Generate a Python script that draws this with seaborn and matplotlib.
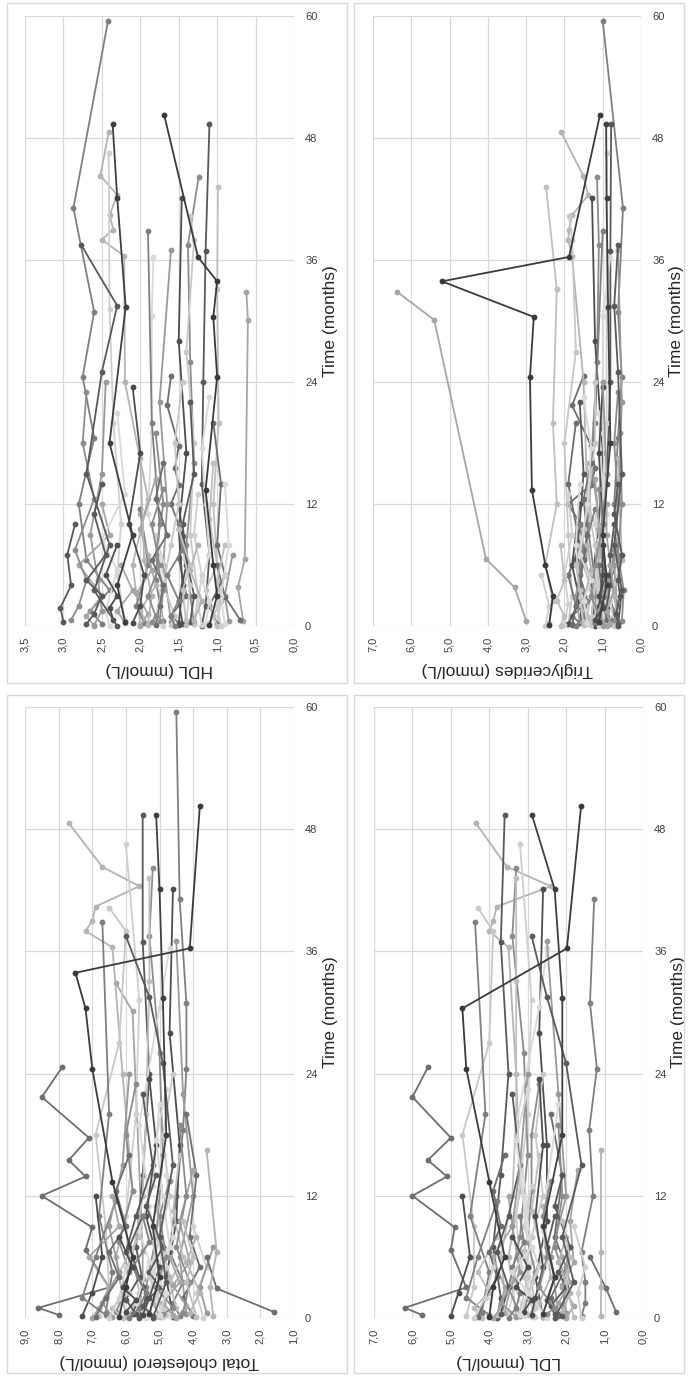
import numpy as np
import pandas as pd
import matplotlib
matplotlib.use('Agg')
import matplotlib.pyplot as plt
from matplotlib.ticker import FuncFormatter
import seaborn as sns

nan = np.nan

# visit times (months), one list per patient
times = [
    [0.2, 1.5, 3.5, 6.5, 12.0, 18.5, 24.5, 30.9, 41.1, 59.5],
    [0.5, 3.8, 6.6, 30.1, 32.9],
    [0.3, 1.0, 3.0, 6.7, 8.9, 12.0, 13.9, 15.5, 17.7, 21.7, 24.6],
    [0.2, 6.0, 12.5, 24.0, 36.4, 38.0, 39.0, 40.4, 42.4, 44.3, 48.6],
    [0.0, 2.0, 7.0, 14.0, 24.0, 36.9, 49.4],
    [0.6, 5.0, 10.0, 20.0, 31.2, 46.5],
    [0.2, 3.0, 8.0, 16.0, 26.0, 37.5, 44.2],
    [0.3, 2.5, 6.0, 12.0, 20.0, 33.1, 43.2],
    [0.1, 4.0, 9.5, 17.0, 28.0, 42.1],
    [0.7, 5.5, 11.0, 19.0, 30.5, 36.3],
    [0.4, 6.0, 12.0, 22.0, 37.0],
    [0.2, 3.0, 9.0, 18.0, 27.0, 38.0, 40.3],
    [0.5, 4.5, 10.0, 20.0, 38.9],
    [0.0, 1.0, 3.0, 6.0, 9.0, 12.0],
    [0.2, 2.0, 5.0, 8.0, 14.0, 20.0],
    [0.1, 1.5, 4.0, 7.0, 11.0],
    [0.4, 3.0, 6.5, 10.0, 15.0, 22.0],
    [0.0, 2.5, 5.0, 9.0],
    [0.6, 2.0, 4.5, 7.5, 12.5, 18.0, 23.0],
    [0.3, 1.0, 3.5, 6.0, 10.5, 16.0],
    [0.2, 2.5, 6.0, 12.0],
    [0.0, 1.5, 5.5, 8.5, 13.0, 21.0],
    [0.5, 3.0, 7.0],
    [0.1, 1.0, 4.0, 8.0, 12.0, 18.0, 24.0],
    [0.3, 2.0, 6.0, 11.5],
    [0.0, 1.2, 3.2, 5.5, 9.5, 14.5],
    [0.6, 2.9, 6.0],
    [0.2, 3.0, 6.5, 16.5],
    [0.4, 1.8, 4.0, 7.0, 10.0],
    [0.1, 2.2, 5.0, 9.0, 13.0],
    [0.5, 3.5, 7.0, 12.0, 19.0],
    [0.0, 1.0, 2.5, 4.5, 8.0],
    [0.3, 2.0, 5.0, 10.0, 17.0, 23.5],
    [0.2, 3.0, 8.0, 14.0],
    [0.1, 1.5, 4.5, 9.0, 15.0, 24.0],
    [0.6, 4.0, 7.5],
    [0.0, 1.0, 2.5, 5.0, 7.5, 10.0],
    [0.3, 1.5, 3.5, 6.0],
    [0.1, 2.0, 4.0, 6.5, 9.0, 12.5, 16.0],
    [0.5, 2.5, 5.5, 8.0],
    [0.2, 1.2, 3.0, 4.5, 7.0, 11.0, 14.0],
    [0.0, 2.0, 5.0],
    [0.4, 1.0, 3.0, 6.0, 10.0, 13.5],
    [0.1, 3.5, 6.0, 9.5],
    [0.6, 1.8, 3.0, 5.0, 8.0],
    [0.3, 2.5, 4.5, 7.0, 12.0, 17.5, 22.5],
    [0.0, 3.5, 8.0, 15.0, 25.0, 31.5, 37.5],
    [0.4, 4.0, 9.0, 18.0, 31.4, 42.1, 49.4],
    [0.1, 3.0, 6.0, 13.4, 24.5, 30.4, 33.9, 36.3, 50.3],
]

tc = [
    [4.4, 4.6, 4.3, 4.7, 4.5, 4.3, 4.2, 4.2, 4.4, 4.5],
    [5.6, 5.5, 5.5, 5.8, 6.3],
    [8.0, 8.6, 6.5, 7.2, 7.0, 8.5, 7.2, 7.7, 7.1, 8.5, 7.9],
    [6.0, 6.3, 5.8, 6.1, 6.4, 7.2, 7.0, 6.9, 5.6, 6.7, 7.7],
    [5.6, 5.4, 5.7, 5.5, 5.3, 5.5, 5.5],
    [6.2, 5.9, 6.0, 5.7, 5.6, 6.0],
    [5.0, 5.4, 5.1, 4.9, 5.0, 5.3, 5.2],
    [5.9, 5.6, 5.8, 5.5, 5.4, 5.3, 5.3],
    [4.6, 4.8, 4.5, 4.4, 4.7, 4.6],
    [5.4, 5.1, 5.3, 5.6, 5.0, 4.7],
    [4.2, 4.4, 4.0, 4.3, 4.5],
    [6.8, 6.5, 6.6, 6.9, 6.2, 6.0, 6.5],
    [6.6, 6.4, 6.8, 6.5, 6.7],
    [7.0, 6.8, 6.5, 7.1, 6.2, 6.4],
    [4.0, 4.3, 3.8, 4.1, 3.9, 4.2],
    [5.0, 5.2, 4.7, 4.9, 5.1],
    [5.8, 5.5, 6.0, 5.7, 5.2, 5.5],
    [3.7, 3.9, 3.6, 4.0],
    [6.3, 6.1, 5.9, 6.2, 5.8, 6.0, 5.7],
    [4.8, 4.5, 4.7, 4.3, 4.6, 4.4],
    [7.3, 7.0, 6.7, 6.9],
    [5.4, 5.7, 5.3, 5.6, 5.2, 5.0],
    [3.6, 3.8, 3.4],
    [5.1, 4.9, 5.3, 5.0, 4.7, 4.9, 4.6],
    [6.6, 7.3, 6.9, 6.3],
    [4.5, 4.2, 4.6, 4.1, 4.4, 4.0],
    [1.6, 3.3, 3.6],
    [3.4, 3.5, 3.3, 3.6],
    [5.7, 6.0, 5.6, 5.9, 5.5],
    [4.9, 5.1, 4.8, 5.2, 5.0],
    [4.3, 4.1, 4.5, 4.2, 4.4],
    [6.1, 6.4, 5.9, 6.2, 5.6],
    [5.5, 5.3, 5.0, 5.4, 5.1, 5.3],
    [4.7, 5.0, 4.6, 4.8],
    [6.4, 6.7, 6.2, 6.5, 6.1, 5.9],
    [5.3, 5.0, 5.2],
    [5.9, 5.6, 5.4, 5.8, 5.3, 5.5],
    [4.6, 4.9, 4.4, 4.7],
    [6.9, 6.6, 6.2, 6.5, 6.0, 6.3, 5.9],
    [4.1, 3.8, 4.2, 3.9],
    [5.2, 5.5, 5.0, 5.3, 4.9, 5.4, 5.1],
    [6.5, 6.2, 6.0],
    [4.9, 4.6, 5.1, 4.8, 5.0, 4.7],
    [3.9, 4.2, 4.0, 4.3],
    [6.0, 5.7, 6.1, 5.8, 6.2],
    [5.0, 4.8, 5.2, 4.7, 4.9, 5.1, 4.8],
    [5.2, 4.8, 5.0, 4.6, 4.9, 5.3, 6.0],
    [5.3, 5.0, 5.2, 4.8, 4.9, 5.0, 5.1],
    [6.2, 6.0, 5.8, 6.4, 7.0, 7.2, 7.5, 4.1, 3.8],
]

hdl = [
    [2.5, 2.65, 2.4, 2.7, 2.8, 2.6, 2.75, 2.6, 2.87, 2.42],
    [0.66, 0.73, 0.64, 0.60, 0.62],
    [1.5, 1.6, 1.4, 1.5, 1.45, 1.6, 1.5, 1.55, 1.5, 1.65, 1.6],
    [2.0, 2.1, 1.9, 2.2, 2.21, 2.5, 2.35, 2.4, 2.3, 2.52, 2.41],
    [1.2, 1.15, 1.1, 1.2, 1.18, 1.15, 1.1],
    [2.2, 2.3, 2.25, 2.35, 2.4, 2.41],
    [1.3, 1.35, 1.4, 1.3, 1.35, 1.38, 1.24],
    [1.0, 0.95, 1.0, 1.05, 0.98, 1.0, 0.99],
    [1.5, 1.45, 1.5, 1.4, 1.5, 1.46],
    [1.8, 1.7, 1.9, 1.85, 1.85, 1.83],
    [1.6, 1.7, 1.65, 1.75, 1.6],
    [1.3, 1.25, 1.35, 1.3, 1.4, 1.3, 1.35],
    [1.7, 1.8, 1.75, 1.85, 1.9],
    [2.6, 2.7, 2.5, 2.8, 2.4, 2.5],
    [1.0, 1.1, 0.9, 1.0, 0.95, 1.05],
    [1.9, 2.0, 1.8, 1.9, 2.0],
    [1.35, 1.3, 1.4, 1.45, 1.3, 1.35],
    [1.7, 1.75, 1.65, 1.8],
    [2.9, 2.8, 2.7, 2.85, 2.6, 2.75, 2.7],
    [1.1, 1.05, 1.15, 1.0, 1.1, 1.05],
    [1.45, 1.5, 1.4, 1.5],
    [2.4, 2.45, 2.3, 2.5, 2.2, 2.3],
    [0.85, 0.9, 0.8],
    [1.6, 1.55, 1.7, 1.6, 1.5, 1.55, 1.45],
    [1.95, 2.05, 1.9, 2.0],
    [2.0, 1.9, 2.05, 1.85, 2.0, 1.8],
    [0.7, 0.9, 1.0],
    [1.9, 1.85, 1.95, 2.0],
    [3.0, 3.04, 2.9, 2.95, 2.85],
    [1.2, 1.25, 1.2, 1.3, 1.25],
    [1.75, 1.7, 1.8, 1.7, 1.8],
    [1.0, 1.05, 0.95, 1.0, 0.9],
    [2.1, 2.0, 1.95, 2.15, 2.0, 2.1],
    [0.9, 0.95, 0.85, 0.9],
    [2.6, 2.5, 2.55, 2.65, 2.5, 2.45],
    [1.4, 1.35, 1.45],
    [1.55, 1.6, 1.5, 1.65, 1.45, 1.5],
    [2.2, 2.3, 2.1, 2.25],
    [1.8, 1.75, 1.7, 1.85, 1.65, 1.8, 1.7],
    [1.3, 1.2, 1.35, 1.25],
    [2.7, 2.6, 2.5, 2.7, 2.45, 2.6, 2.5],
    [0.95, 1.0, 0.9],
    [1.85, 1.8, 1.9, 1.75, 1.85, 1.7],
    [1.4, 1.45, 1.35, 1.5],
    [2.35, 2.4, 2.3, 2.45, 2.3],
    [1.15, 1.1, 1.2, 1.1, 1.15, 1.2, 1.1],
    [2.3, 2.6, 2.4, 2.7, 2.5, 2.3, 2.77],
    [2.2, 2.3, 2.1, 2.4, 2.19, 2.3, 2.36],
    [1.1, 1.0, 1.05, 1.15, 1.0, 1.05, 1.0, 1.25, 1.69],
]

ldl = [
    [1.6, 1.5, 1.5, 1.6, 1.3, 1.4, 1.2, 1.38, 1.27, nan],
    [3.6, 3.4, 3.1, nan, nan],
    [5.75, 6.2, 4.6, 5.0, 4.9, 6.0, 5.1, 5.6, 5.0, 6.0, 5.6],
    [3.3, 3.5, 3.2, 3.3, 3.5, 4.0, 3.9, 3.8, 2.4, 3.54, 4.35],
    [3.8, 3.7, 3.9, 3.7, 3.5, 3.7, 3.6],
    [3.5, 3.2, 3.3, 3.0, 2.9, 3.2],
    [3.2, 3.5, 3.2, 3.0, 3.1, 3.4, 3.3],
    [3.8, 3.6, 3.7, 3.4, 3.3, 3.3, 3.3],
    [2.6, 2.8, 2.5, 2.5, 2.7, 2.6],
    [3.1, 2.9, 3.0, 3.3, 2.7, 2.5],
    [2.2, 2.4, 2.0, 2.2, 2.5],
    [4.6, 4.4, 4.4, 4.7, 4.0, 3.9, 4.3],
    [4.2, 4.0, 4.5, 4.1, 4.37],
    [3.9, 3.7, 3.6, 3.9, 3.4, 3.5],
    [2.2, 2.4, 2.0, 2.3, 2.1, 2.4],
    [2.6, 2.7, 2.4, 2.5, 2.6],
    [3.7, 3.5, 3.8, 3.5, 3.2, 3.4],
    [1.6, 1.7, 1.5, 1.8],
    [3.1, 3.0, 2.8, 3.0, 2.9, 2.9, 2.7],
    [3.0, 2.8, 2.9, 2.6, 2.9, 2.7],
    [5.0, 4.8, 4.5, 4.7],
    [2.5, 2.8, 2.5, 2.6, 2.5, 2.2],
    [2.0, 2.1, 1.9],
    [2.9, 2.8, 3.1, 2.9, 2.6, 2.8, 2.6],
    [4.0, 4.6, 4.3, 3.8],
    [2.0, 1.8, 2.1, 1.8, 1.9, 1.7],
    [0.7, 0.96, 1.38],
    [1.1, 1.1, 1.1, 1.1],
    [2.3, 2.5, 2.3, 2.5, 2.3],
    [2.8, 3.0, 2.7, 3.1, 2.9],
    [2.1, 2.0, 2.3, 2.1, 2.2],
    [4.2, 4.4, 4.0, 4.3, 3.8],
    [2.9, 2.8, 2.6, 2.8, 2.6, 2.7],
    [3.1, 3.3, 3.0, 3.2],
    [3.3, 3.7, 3.2, 3.4, 3.2, 3.0],
    [3.2, 3.0, 3.1],
    [3.5, 3.3, 3.2, 3.4, 3.1, 3.2],
    [2.0, 2.2, 1.9, 2.1],
    [4.3, 4.1, 3.8, 4.0, 3.7, 3.9, 3.6],
    [2.1, 1.9, 2.2, 2.0],
    [2.1, 2.4, 2.0, 2.2, 1.9, 2.3, 2.1],
    [4.4, 4.1, 3.9],
    [2.5, 2.3, 2.7, 2.5, 2.6, 2.4],
    [1.8, 2.0, 1.9, 2.1],
    [3.1, 2.9, 3.3, 3.0, 3.4],
    [3.2, 3.0, 3.4, 2.9, 3.1, 3.3, 3.0],
    [2.3, 1.8, 2.1, 1.6, 2.0, 2.5, 2.9],
    [2.6, 2.3, 2.6, 2.1, 2.1, 2.3, 2.89],
    [4.0, 3.9, 3.6, 4.0, 4.6, 4.7, nan, 1.98, 1.61],
]

tg = [
    [0.8, 0.7, 0.9, 0.6, 0.7, 0.6, 0.5, 0.6, 0.47, 1.0],
    [3.0, 3.3, 4.05, 5.4, 6.38],
    [1.6, 1.8, 1.2, 1.5, 1.4, 1.9, 1.3, 1.2, 1.3, 1.8, 1.5],
    [1.5, 1.6, 1.4, 1.5, 1.8, 1.9, 1.88, 1.8, 1.38, 1.51, 2.09],
    [1.2, 1.0, 1.1, 0.9, 0.8, 0.8, 0.78],
    [1.1, 1.0, 1.2, 0.9, 0.9, 0.89],
    [1.1, 1.2, 1.0, 1.3, 1.15, 1.1, 1.15],
    [2.4, 2.3, 2.5, 2.2, 2.3, 2.2, 2.48],
    [1.2, 1.3, 1.1, 1.0, 1.2, 1.28],
    [1.0, 1.1, 0.9, 1.0, 1.0, 0.8],
    [0.6, 0.7, 0.6, 0.5, 0.6],
    [1.9, 1.8, 1.9, 2.0, 1.7, 1.8, 1.88],
    [1.3, 1.2, 1.4, 1.2, 1.0],
    [1.0, 0.9, 0.9, 0.8, 0.9, 0.9],
    [1.8, 1.7, 1.9, 1.6, 1.9, 1.7],
    [1.1, 1.0, 1.2, 1.1, 1.0],
    [1.6, 1.5, 1.7, 1.6, 1.5, 1.6],
    [0.7, 0.8, 0.6, 0.7],
    [0.7, 0.6, 0.8, 0.7, 0.6, 0.7, 0.6],
    [1.5, 1.4, 1.3, 1.5, 1.3, 1.4],
    [1.9, 1.6, 1.8, 1.6],
    [1.1, 1.0, 1.2, 1.1, 1.0, 1.1],
    [1.6, 1.7, 1.5],
    [1.3, 1.2, 1.1, 1.2, 1.4, 1.2, 1.2],
    [1.4, 1.5, 1.6, 1.2],
    [0.9, 1.1, 1.0, 1.0, 1.1, 1.2],
    [0.9, 1.0, 1.1],
    [0.6, 0.7, 0.5, 0.6],
    [0.8, 0.9, 0.8, 0.8, 0.7],
    [2.0, 1.9, 2.0, 1.8, 1.9],
    [0.5, 0.45, 0.6, 0.5, 0.55],
    [2.1, 2.0, 2.2, 2.0, 2.1],
    [1.2, 1.1, 1.0, 1.0, 1.1, 1.0],
    [1.5, 1.6, 1.7, 1.6],
    [1.0, 1.1, 0.9, 1.0, 0.9, 1.0],
    [1.3, 1.2, 1.4],
    [1.7, 1.5, 1.4, 1.6, 1.5, 1.6],
    [0.8, 0.9, 0.7, 0.8],
    [1.8, 1.7, 1.6, 1.5, 1.4, 1.5, 1.3],
    [1.4, 1.5, 1.3, 1.4],
    [0.6, 0.65, 0.55, 0.6, 0.5, 0.7, 0.6],
    [2.5, 2.4, 2.6],
    [1.2, 1.1, 1.3, 1.2, 1.0, 1.1],
    [1.5, 1.6, 1.7, 1.5],
    [1.2, 1.0, 1.1, 0.9, 1.0],
    [1.4, 1.5, 1.3, 1.6, 1.4, 1.3, 1.5],
    [0.6, 0.5, 0.7, 0.5, 0.6, 0.7, 0.6],
    [1.1, 0.9, 1.0, 0.8, 0.86, 0.9, 0.91],
    [2.4, 2.3, 2.5, 2.85, 2.9, 2.8, 5.2, 1.88, 1.07],
]

time_ticks = [0, 12, 24, 36, 48, 60]

gray_cycle = ['#7f7f7f', '#a6a6a6', '#6e6e6e', '#b4b4b4', '#595959', '#cfcfcf',
              '#8c8c8c', '#bfbfbf', '#4d4d4d', '#d9d9d9', '#999999', '#c8c8c8']

rows = []
for i, t in enumerate(times):
    for j in range(len(t)):
        rows.append({'patient': f'p{i:02d}', 'time': t[j], 'tc': tc[i][j],
                     'hdl': hdl[i][j], 'ldl': ldl[i][j], 'tg': tg[i][j]})
df = pd.DataFrame(rows)

pids = [f'p{i:02d}' for i in range(len(times))]
palette = {p: gray_cycle[i % len(gray_cycle)] for i, p in enumerate(pids)}
# last three are the dark ones
palette[pids[-1]] = '#3a3a3a'
palette[pids[-2]] = '#3f3f3f'
palette[pids[-3]] = '#5a5a5a'

sns.set_style('whitegrid')
plt.rcParams['font.family'] = ['Liberation Sans', 'DejaVu Sans']

W, H = 688, 1377
fig = plt.figure(figsize=(W / 100, H / 100), dpi=100)

# (column, label, vmax, vmin, step, plot box in pixels: left, top, right, bottom)
panels = [
    ('hdl', 'HDL (mmol/L)', 3.5, 0.0, 0.5, (25, 16, 294, 626)),
    ('tg', 'Triglycerides (mmol/L)', 7.0, 0.0, 1.0, (373, 16, 641, 626)),
    ('tc', 'Total cholesterol (mmol/L)', 9.0, 1.0, 1.0, (25, 707, 294, 1318)),
    ('ldl', 'LDL (mmol/L)', 7.0, 0.0, 1.0, (374, 707, 643, 1318)),
]
frames = [(7, 3, 347, 683), (354, 3, 684, 683), (7, 695, 347, 1373), (354, 695, 684, 1373)]

for (x0, y0, x1, y1) in frames:
    fig.add_artist(plt.Rectangle((x0 / W, 1 - y1 / H), (x1 - x0) / W, (y1 - y0) / H,
                                 transform=fig.transFigure, fill=False,
                                 ec='#d9d9d9', lw=1.0))

comma = FuncFormatter(lambda v, p: f'{v:.1f}'.replace('.', ','))

for col, label, vmax, vmin, step, (l, t, r, b) in panels:
    ax = fig.add_axes([l / W, 1 - b / H, (r - l) / W, (b - t) / H])
    d = df.dropna(subset=[col])
    sns.lineplot(data=d, x=col, y='time', hue='patient', palette=palette,
                 hue_order=pids, estimator=None, sort=False, marker='o',
                 markersize=4.2, markeredgewidth=0, linewidth=1.3,
                 legend=False, ax=ax)
    for ln in ax.lines:
        ln.set_clip_on(False)
    ax.set_xlim(vmax, vmin)
    ax.set_xticks(np.arange(vmin, vmax + 0.01, step))
    ax.xaxis.set_major_formatter(comma)
    ax.set_ylim(0, 60)
    ax.set_yticks(time_ticks)
    ax.yaxis.tick_right()
    ax.yaxis.set_label_position('right')
    ax.tick_params(length=0, labelsize=8, colors='#404040', pad=8)
    ax.tick_params(axis='x', labelrotation=90)
    ax.grid(True, color='#d9d9d9', lw=0.9)
    for s in ax.spines.values():
        s.set_visible(False)
    ax.set_xlabel(label, fontsize=12.5, color='#262626', rotation=180,
                  ha='center', va='center')
    ax.set_ylabel('Time (months)', fontsize=12.5, color='#262626', rotation=90,
                  ha='center', va='center')
    ax.xaxis.set_label_coords(0.5, -44 / (b - t))
    ax.yaxis.set_label_coords(1 + 36 / (r - l), 0.5)

fig.savefig('out.png', dpi=100)
